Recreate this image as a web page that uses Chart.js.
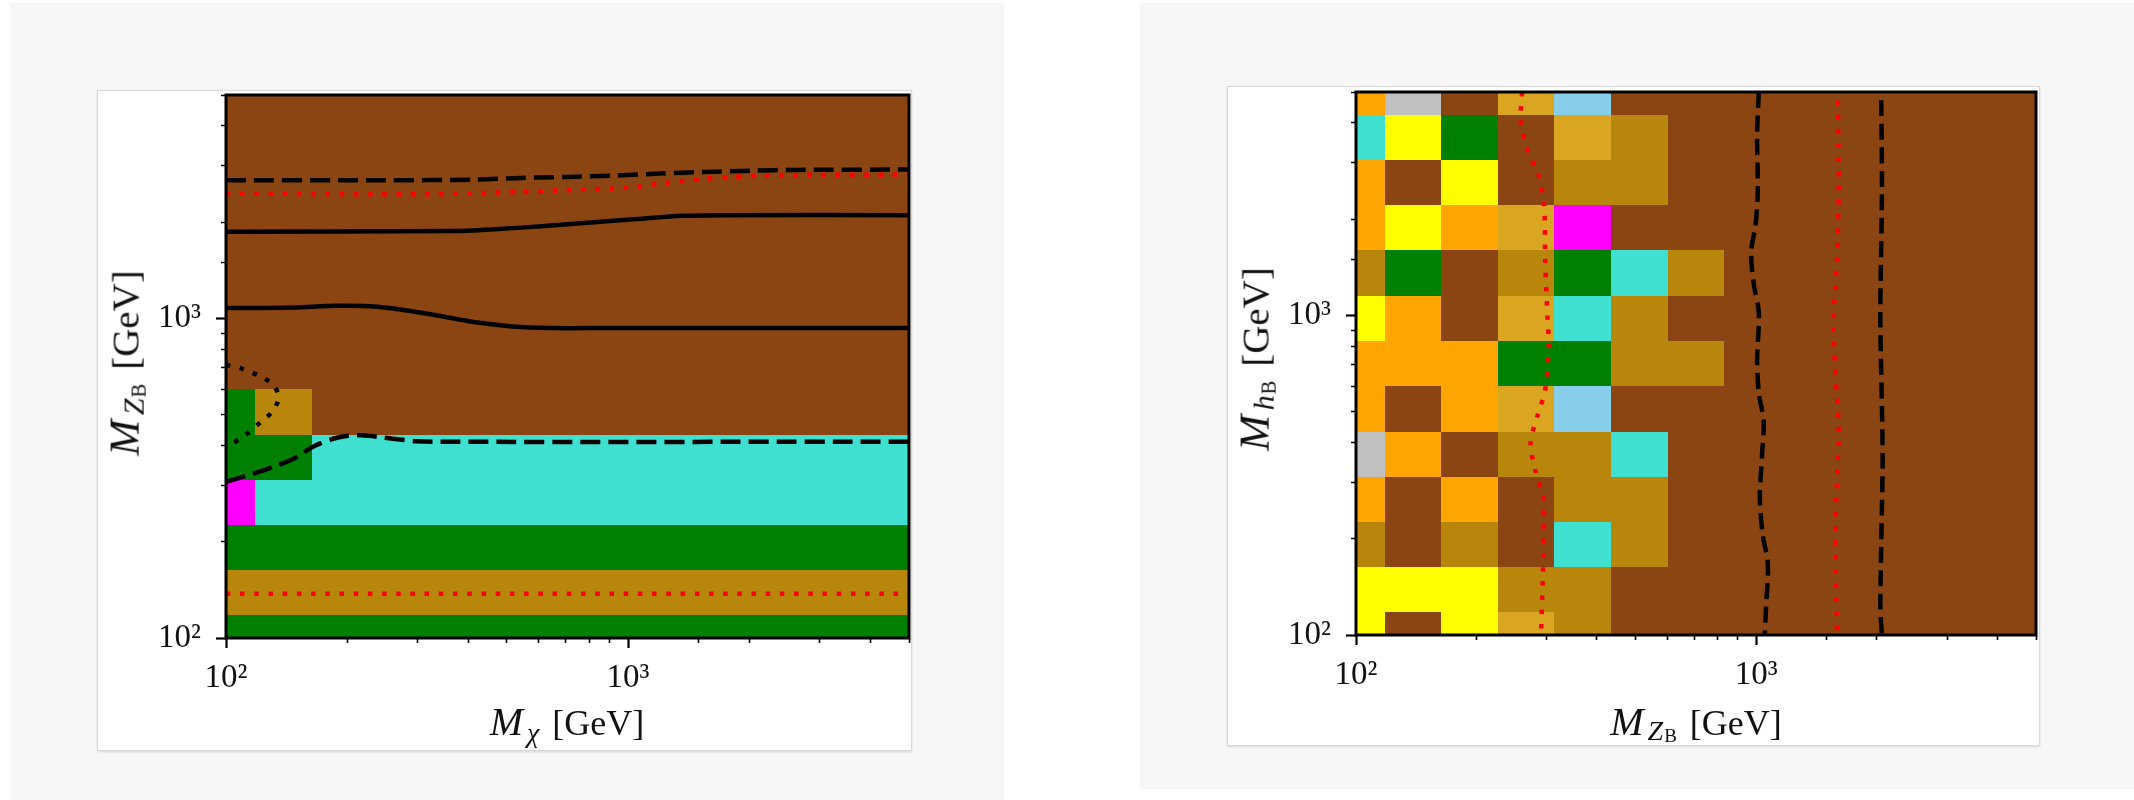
<!DOCTYPE html>
<html>
<head>
<meta charset="utf-8">
<script src="https://cdn.jsdelivr.net/npm/chart.js@4.4.1/dist/chart.umd.min.js"></script>
<style>
  html, body { margin: 0; padding: 0; background: #fff; width: 2134px; height: 800px; overflow: hidden; position: relative; font-family: "Liberation Serif", "DejaVu Serif", serif; }
  .panel { position: absolute; background: #f7f7f7; }
  .card { position: absolute; background: #fff; border: 1px solid #d8d8d8; box-sizing: border-box; box-shadow: 0 1px 2px rgba(0,0,0,0.12); }
  canvas { position: absolute; }
  .title { position: absolute; font-size: 36px; line-height: 34px; white-space: nowrap; color: #111; transform: translate(-50%, -50%); }
  .yt { transform: translate(-50%, -50%) rotate(-90deg) scale(1.08); }
  .big { font-size: 40px; margin-right: 3px; }
  .sub1 { font-size: 28px; position: relative; top: 5px; line-height: 0; margin-left: 1px; }
  .chi { top: 7px; }
  .sub2 { font-size: 19px; position: relative; top: 2px; font-style: normal; line-height: 0; margin-left: 1px; }
  .gap { display: inline-block; width: 13px; }
</style>
</head>
<body>
<div class="panel" style="left:10px;top:3px;width:994px;height:797px"></div>
<div class="panel" style="left:1140px;top:3px;width:994px;height:786px"></div>
<div class="card" style="left:97px;top:90px;width:815px;height:661px"></div>
<div class="card" style="left:1227px;top:86px;width:813px;height:660px"></div>
<canvas id="chiPlane" width="815" height="661" style="left:97px;top:90px"></canvas>
<canvas id="hPlane" width="813" height="660" style="left:1227px;top:86px"></canvas>

<div class="title" style="left:567px;top:722px"><i class="big">M</i><span class="sub1 chi"><i>χ</i></span><span class="gap"></span>[GeV]</div>
<div class="title yt" style="left:125px;top:363px"><i class="big">M</i><span class="sub1"><i>Z</i><span class="sub2">B</span></span><span class="gap"></span>[GeV]</div>
<div class="title" style="left:1696px;top:722px"><i class="big">M</i><span class="sub1"><i>Z</i><span class="sub2">B</span></span><span class="gap"></span>[GeV]</div>
<div class="title yt" style="left:1255px;top:359px"><i class="big">M</i><span class="sub1"><i>h</i><span class="sub2">B</span></span><span class="gap"></span>[GeV]</div>

<script>
// ---- axis range and labelled decades (GeV) ----
const axisMin = 100;
const axisMax = 5000;
const decadeTicks = [100, 1000];
const decadeLabels = ['10\u00b2', '10\u00b3'];

// ---- scan grids (GeV) ----
const mChiGrid = [100, 139, 192, 266, 368, 510, 707, 980, 1357, 1880, 2605, 3609, 5000];
const mZBGrid  = [100, 139, 192, 266, 368, 510, 707, 980, 1357, 1880, 2605, 3609, 5000];
const mhBGrid  = [100, 139, 192, 266, 368, 510, 707, 980, 1357, 1880, 2605, 3609, 5000];

// dominant-channel codes
const palette = {
  B: '#8B4513', O: '#FFA500', Y: '#FFFF00', G: '#008000', T: '#40E0D0',
  D: '#B8860B', g: '#DAA520', S: '#C0C0C0', K: '#87CEEB', M: '#FF00FF'
};

// (M_chi, M_ZB) plane, one string per M_ZB row, lowest row first
const chiPlaneCells = [
  'GGGGGGGGGGGGG',
  'DDDDDDDDDDDDD',
  'GGGGGGGGGGGGG',
  'MTTTTTTTTTTTT',
  'GGTTTTTTTTTTT',
  'GDBBBBBBBBBBB',
  'BBBBBBBBBBBBB',
  'BBBBBBBBBBBBB',
  'BBBBBBBBBBBBB',
  'BBBBBBBBBBBBB',
  'BBBBBBBBBBBBB',
  'BBBBBBBBBBBBB',
  'BBBBBBBBBBBBB'
];

// (M_ZB, M_hB) plane, one string per M_hB row, lowest row first
const hPlaneCells = [
  'YBYgDBBBBBBBB',
  'YYYDDBBBBBBBB',
  'DBDBTDBBBBBBB',
  'OBOBDDBBBBBBB',
  'SOBDDTBBBBBBB',
  'OBOgKBBBBBBBB',
  'OOOGGDDBBBBBB',
  'YOBgTDBBBBBBB',
  'DGBDGTDBBBBBB',
  'OYOgMBBBBBBBB',
  'OBYBDDBBBBBBB',
  'TYGBgDBBBBBBB',
  'OSBgKBBBBBBBB'
];

// ---- contours in the (M_chi, M_ZB) plane ----
const upperDashX = [100, 247, 418, 544, 707, 920, 1197, 1557, 2027, 2638, 5000];
const upperDashY = [2705, 2705, 2718, 2752, 2771, 2798, 2838, 2873, 2900, 2915, 2922];

const upperRedX = [100, 321, 544, 707, 920, 1050, 1197, 1366, 1557, 1778, 2027, 2638, 5000];
const upperRedY = [2459, 2447, 2489, 2518, 2549, 2579, 2642, 2686, 2738, 2764, 2791, 2812, 2818];

const upperSolidX = [100, 366, 476, 620, 807, 1050, 1366, 1778, 5000];
const upperSolidY = [1867, 1876, 1904, 1945, 1997, 2045, 2094, 2104, 2104];

const lowerSolidX = [100, 146, 190, 234, 282, 339, 418, 516, 637, 920, 5000];
const lowerSolidY = [1077, 1082, 1095, 1090, 1059, 1019, 972, 944, 933, 933, 933];

const lowerDashX = [100, 119, 146, 166, 190, 217, 260, 297, 356, 5000];
const lowerDashY = [308, 329, 362, 399, 424, 431, 420, 413, 411, 411];

const cornerDotX = [100, 108, 115, 124, 132, 135, 131, 123, 112, 100];
const cornerDotY = [716, 700, 680, 651, 614, 564, 514, 478, 433, 394];

const lowerRedX = [100, 5000];
const lowerRedY = [137.5, 137.5];

// ---- contours in the (M_ZB, M_hB) plane ----
const leftRedX = [260, 258, 268, 286, 295, 297, 301, 303, 297, 284, 273, 281, 294, 295, 293, 290];
const leftRedY = [5000, 4018, 3287, 2734, 2224, 1472, 975, 804, 586, 484, 399, 325, 266, 240, 157, 100];

const midDashX = [1015, 1005, 1009, 996, 971, 986, 1015, 1005, 1015, 1044, 1034, 1021, 1038, 1069, 1058, 1050];
const midDashY = [5000, 3671, 2477, 1907, 1588, 1254, 1017, 724, 572, 464, 367, 268, 206, 167, 122, 100];

const midRedX = [1600, 1607, 1592, 1561, 1570, 1607, 1592, 1577, 1584, 1592];
const midRedY = [4700, 2477, 1508, 992, 724, 440, 313, 211, 139, 100];

const rightDashX = [2053, 2061, 2042, 2061, 2069, 2042, 2061];
const rightDashY = [4710, 2477, 992, 515, 348, 122, 100];

// ---- helpers ----
const pts = (xs, ys) => xs.map((x, i) => ({ x, y: ys[i] }));
const isDecade = v => Math.abs(Math.log10(v) - Math.round(Math.log10(v))) < 1e-9;

function cellEdges(grid, lo, hi) {
  const e = [lo];
  for (let i = 0; i < grid.length - 1; i++) e.push(Math.sqrt(grid[i] * grid[i + 1]));
  e.push(hi);
  return e;
}

function cellLayer(xGrid, yGrid, rows) {
  return {
    id: 'cellLayer',
    beforeDatasetsDraw(chart) {
      const { ctx, scales: { x, y } } = chart;
      const xe = cellEdges(xGrid, x.min, x.max);
      const ye = cellEdges(yGrid, y.min, y.max);
      ctx.save();
      rows.forEach((row, i) => {
        const yTop = Math.round(y.getPixelForValue(ye[i + 1]));
        const yBot = Math.round(y.getPixelForValue(ye[i]));
        [...row].forEach((code, j) => {
          const xL = Math.round(x.getPixelForValue(xe[j]));
          const xR = Math.round(x.getPixelForValue(xe[j + 1]));
          ctx.fillStyle = palette[code];
          ctx.fillRect(xL, yTop, xR - xL, yBot - yTop);
        });
      });
      ctx.restore();
    }
  };
}

const frame = {
  id: 'frame',
  afterDatasetsDraw(chart) {
    const { ctx, chartArea: a } = chart;
    ctx.save();
    ctx.strokeStyle = '#000';
    ctx.lineWidth = 3;
    ctx.strokeRect(a.left, a.top, a.right - a.left, a.bottom - a.top);
    ctx.restore();
  }
};

function logAxis(axis, fitSize, pad) {
  return {
    type: 'logarithmic',
    min: axisMin,
    max: axisMax,
    border: { display: false },
    grid: {
      drawOnChartArea: false,
      drawTicks: true,
      tickLength: 10,
      tickColor: '#000',
      tickWidth: c => (isDecade(c.tick.value) ? 2.2 : 1.6),
      tickBorderDash: c => (isDecade(c.tick.value) ? [] : (axis === 'x' ? [5, 40] : [0, 5, 5, 40]))
    },
    ticks: {
      autoSkip: false,
      maxRotation: 0,
      minRotation: 0,
      padding: pad,
      color: '#111',
      font: { family: '"Liberation Serif", serif', size: 33 },
      callback: v => {
        const i = decadeTicks.findIndex(d => Math.abs(d - v) < 1e-6);
        return i >= 0 ? decadeLabels[i] : '';
      }
    },
    afterFit: s => {
      if (axis === 'x') s.height = fitSize; else s.width = fitSize;
      s.paddingTop = 0; s.paddingBottom = 0; s.paddingLeft = 0; s.paddingRight = 0;
    }
  };
}

function line(data, color, width, dash) {
  return {
    data, showLine: true, borderColor: color, borderWidth: width, borderDash: dash,
    pointRadius: 0, pointHoverRadius: 0, tension: 0.3, fill: false, borderCapStyle: 'butt'
  };
}

function makeChart(id, cells, xGrid, yGrid, datasets, padding, xFit) {
  return new Chart(document.getElementById(id), {
    type: 'scatter',
    data: { datasets },
    options: {
      responsive: false,
      animation: false,
      devicePixelRatio: 1,
      layout: { padding },
      plugins: { legend: { display: false }, tooltip: { enabled: false } },
      scales: { x: logAxis('x', xFit, 11), y: logAxis('y', 129, 15) }
    },
    plugins: [cellLayer(xGrid, yGrid, cells), frame]
  });
}

const RED = '#ff0000';
const hDash = [20, 8];
const vDash = [16, 7.5];
const dots = [4.5, 9.7];

makeChart('chiPlane', chiPlaneCells, mChiGrid, mZBGrid, [
  line(pts(upperDashX, upperDashY), '#000', 4.5, hDash),
  line(pts(upperRedX, upperRedY), RED, 4.5, dots),
  line(pts(upperSolidX, upperSolidY), '#000', 4.5, []),
  line(pts(lowerSolidX, lowerSolidY), '#000', 4.5, []),
  line(pts(lowerDashX, lowerDashY), '#000', 4.5, hDash),
  line(pts(cornerDotX, cornerDotY), '#000', 4.5, [4.5, 9.5]),
  line(pts(lowerRedX, lowerRedY), RED, 4.5, dots)
], { top: 5, right: 3, left: 0, bottom: 0 }, 113);

makeChart('hPlane', hPlaneCells, mZBGrid, mhBGrid, [
  line(pts(leftRedX, leftRedY), RED, 4.5, dots),
  line(pts(midDashX, midDashY), '#000', 4.5, vDash),
  line(pts(midRedX, midRedY), RED, 4.5, dots),
  line(pts(rightDashX, rightDashY), '#000', 4.5, vDash)
], { top: 6, right: 4, left: 0, bottom: 0 }, 111);
</script>
</body>
</html>
